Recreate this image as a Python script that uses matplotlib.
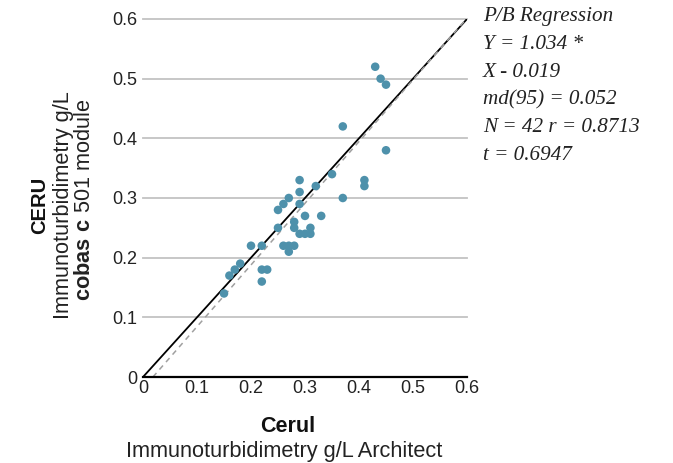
import matplotlib
matplotlib.use("Agg")
import matplotlib.pyplot as plt
import numpy as np

# data (Architect vs cobas c 501, g/L)
cerul_architect = [0.15, 0.16, 0.17, 0.18, 0.20, 0.22, 0.22, 0.23, 0.22, 0.25,
                   0.25, 0.26, 0.27, 0.29, 0.29, 0.29, 0.30, 0.33, 0.32, 0.35,
                   0.28, 0.28, 0.29, 0.30, 0.31, 0.31, 0.26, 0.27, 0.28, 0.27,
                   0.37, 0.37, 0.41, 0.41, 0.43, 0.44, 0.45, 0.45]
ceru_cobas = [0.14, 0.17, 0.18, 0.19, 0.22, 0.22, 0.18, 0.18, 0.16, 0.25,
              0.28, 0.29, 0.30, 0.33, 0.31, 0.29, 0.27, 0.27, 0.32, 0.34,
              0.26, 0.25, 0.24, 0.24, 0.24, 0.25, 0.22, 0.22, 0.22, 0.21,
              0.42, 0.30, 0.33, 0.32, 0.52, 0.50, 0.49, 0.38]

slope = 1.034
intercept = -0.019
stats_lines = ["P/B Regression", "Y = 1.034 *", "X - 0.019",
               "md(95) = 0.052", "N = 42 r = 0.8713", "t = 0.6947"]

ticks = [0, 0.1, 0.2, 0.3, 0.4, 0.5, 0.6]
tick_labels = ["0", "0.1", "0.2", "0.3", "0.4", "0.5", "0.6"]

plt.rcParams['font.family'] = ['Liberation Sans', 'DejaVu Sans']
plt.rcParams['mathtext.fontset'] = 'custom'
plt.rcParams['mathtext.rm'] = 'Liberation Sans'
plt.rcParams['mathtext.bf'] = 'Liberation Sans:bold'

W, H = 673, 463
fig = plt.figure(figsize=(W / 100, H / 100), dpi=100)
ax = fig.add_axes([143 / W, 1 - 377 / H, (467 - 143) / W, (377 - 19) / H])

ax.set_xlim(0, 0.6)
ax.set_ylim(0, 0.6)

# horizontal grid
for t in ticks[1:]:
    ax.axhline(t, color='#c3c3c3', lw=1.3, zorder=1, clip_on=False)

# identity line and regression line
lim = np.array([0, 0.6])
ax.plot(lim, lim, color='black', lw=1.3, zorder=2)
x0 = -intercept / slope
xr = np.array([x0, 0.6])
ax.plot(xr, slope * xr + intercept, color='#a0a0a0', lw=1.1,
        dashes=(3.5, 3), zorder=2)

ax.scatter(cerul_architect, ceru_cobas, s=38, color='#4e91ab',
           edgecolors='none', zorder=3)

for side in ['top', 'right', 'left']:
    ax.spines[side].set_visible(False)
ax.spines['bottom'].set_color('black')
ax.spines['bottom'].set_linewidth(1.6)

ax.set_xticks(ticks)
ax.set_xticklabels(tick_labels)
ax.set_yticks(ticks)
ax.set_yticklabels(tick_labels)
ax.tick_params(axis='both', length=0, labelsize=13, colors='#222222')
ax.tick_params(axis='y', pad=4)
ax.tick_params(axis='x', pad=2)

# axis titles
fig.text(288 / W, 1 - 426 / H, "Cerul", fontsize=15.5, fontweight='bold',
         ha='center', va='center', color='#111111')
fig.text(284 / W, 1 - 452 / H, "Immunoturbidimetry g/L Architect",
         fontsize=15.7, ha='center', va='center', color='#222222')

fig.text(40 / W, 1 - 205 / H, "CERU", fontsize=14.5, fontweight='bold',
         rotation=90, ha='center', va='center', color='#111111')
fig.text(63 / W, 1 - 205 / H, "Immunoturbidimetry g/L", fontsize=15.7,
         rotation=90, ha='center', va='center', color='#222222')
fig.text(84 / W, 1 - 200 / H, r"$\mathbf{cobas\ c}$ 501 module", fontsize=15.7,
         rotation=90, ha='center', va='center', color='#222222')

# regression stats
for i, line in enumerate(stats_lines):
    fig.text(483 / W, 1 - (17 + i * 27.7) / H, line, fontsize=15.2,
             family='Liberation Serif', style='italic', ha='left',
             va='center', color='#222222')

fig.savefig("out.png", dpi=100)
